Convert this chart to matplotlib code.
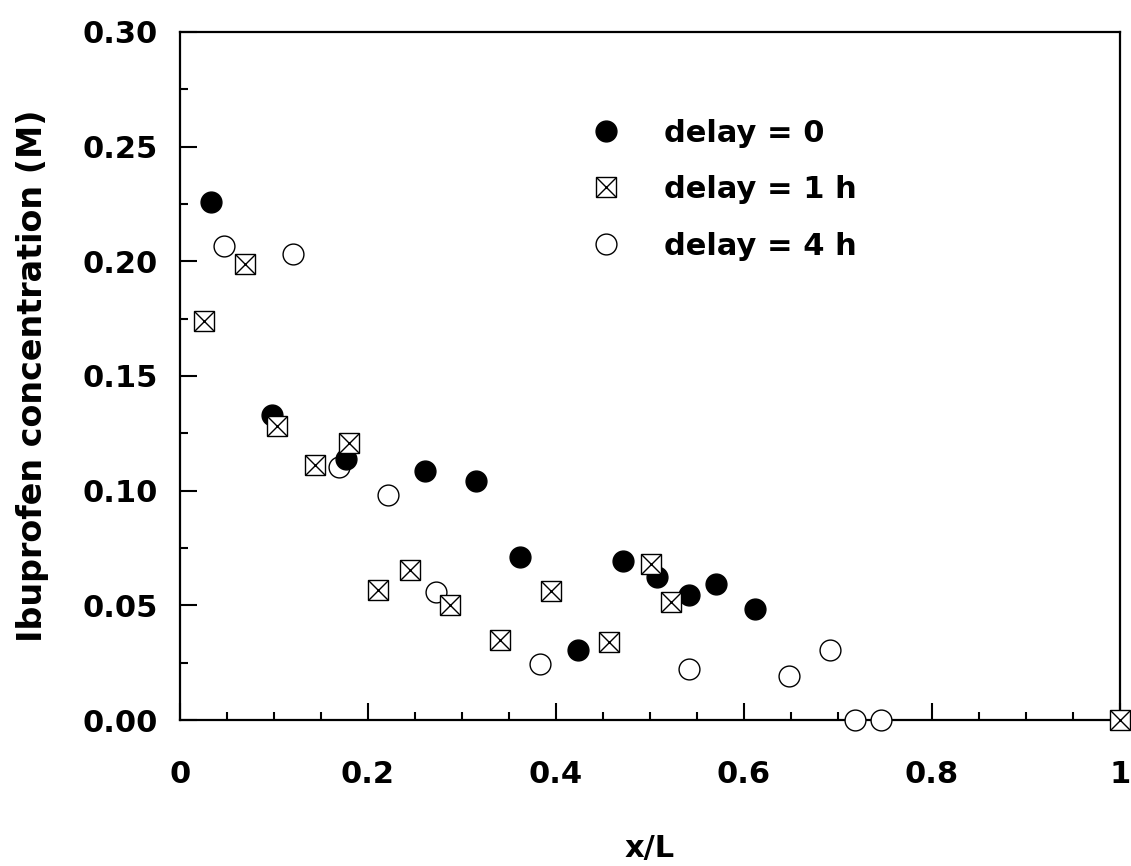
import numpy as np
import matplotlib.pyplot as plt
from matplotlib.lines import Line2D
from matplotlib.ticker import MultipleLocator, FuncFormatter

plt.rcParams['font.family'] = ['DejaVu Sans']
plt.rcParams['font.weight'] = 'bold'

# delay = 0 (filled circles)
x_d0 = [0.033, 0.098, 0.177, 0.261, 0.315, 0.362, 0.423, 0.471, 0.507, 0.542, 0.570, 0.612]
y_d0 = [0.226, 0.133, 0.114, 0.1086, 0.104, 0.071, 0.0304, 0.0695, 0.0625, 0.0545, 0.0594, 0.0483]

# delay = 1 h (crossed squares)
x_d1 = [0.0255, 0.0688, 0.103, 0.144, 0.1795, 0.211, 0.245, 0.2876, 0.340, 0.395, 0.456, 0.501, 0.522, 1.0]
y_d1 = [0.1739, 0.1987, 0.128, 0.111, 0.1207, 0.0566, 0.0653, 0.050, 0.0348, 0.0564, 0.034, 0.0679, 0.0513, 0.0]

# delay = 4 h (open circles)
x_d4 = [0.0465, 0.120, 0.1695, 0.2216, 0.272, 0.383, 0.542, 0.648, 0.6915, 0.718, 0.7457]
y_d4 = [0.2066, 0.203, 0.1105, 0.0983, 0.056, 0.0243, 0.0222, 0.0193, 0.0304, 0.0, 0.0]

labels = ['delay = 0', 'delay = 1 h', 'delay = 4 h']

fig = plt.figure(figsize=(11.31, 8.66), dpi=100)
ax = fig.add_axes([180/1131, 146/866, 940/1131, 688/866])

ms = 15
ax.plot(x_d4, y_d4, 'o', ms=ms, mfc='white', mec='black', mew=1.0, clip_on=False, zorder=3)
ax.plot(x_d0, y_d0, 'o', ms=ms, mfc='black', mec='black', mew=1.0, clip_on=False, zorder=4)
ax.plot(x_d1, y_d1, 's', ms=ms, mfc='white', mec='black', mew=1.0, clip_on=False, zorder=5)
ax.plot(x_d1, y_d1, 'x', ms=ms, mec='black', mew=1.0, clip_on=False, zorder=6)

ax.set_xlim(0, 1)
ax.set_ylim(0, 0.30)
ax.xaxis.set_major_locator(MultipleLocator(0.2))
ax.xaxis.set_minor_locator(MultipleLocator(0.05))
ax.yaxis.set_major_locator(MultipleLocator(0.05))
ax.yaxis.set_minor_locator(MultipleLocator(0.025))
ax.xaxis.set_major_formatter(FuncFormatter(lambda v, p: '%g' % round(v, 2)))
ax.yaxis.set_major_formatter(FuncFormatter(lambda v, p: '%.2f' % v))

ax.tick_params(which='both', direction='in', top=False, right=False, width=1.5, labelsize=22)
ax.tick_params(which='major', length=12)
ax.tick_params(which='minor', length=6)
ax.tick_params(axis='x', which='major', pad=29)
ax.tick_params(axis='y', which='major', pad=16)
for s in ax.spines.values():
    s.set_linewidth(1.6)

ax.set_xlabel('x/L', fontsize=22, fontweight='bold', labelpad=32)
ax.set_ylabel('Ibuprofen concentration (M)', fontsize=24, fontweight='bold', labelpad=24)

h0 = Line2D([], [], ls='none', marker='o', ms=ms, mfc='black', mec='black')
h1s = Line2D([], [], ls='none', marker='s', ms=ms, mfc='white', mec='black', mew=1.0)
h1x = Line2D([], [], ls='none', marker='x', ms=ms, mec='black', mew=1.0)
h4 = Line2D([], [], ls='none', marker='o', ms=ms, mfc='white', mec='black', mew=1.0)
ax.legend([h0, (h1s, h1x), h4], labels, loc='upper left', bbox_to_anchor=(0.43, 0.874),
          frameon=False, borderpad=0, borderaxespad=0,
          handlelength=1.4, handletextpad=1.2, labelspacing=0.9,
          prop={'weight': 'bold', 'size': 22})

fig.savefig('out.png', dpi=100)
